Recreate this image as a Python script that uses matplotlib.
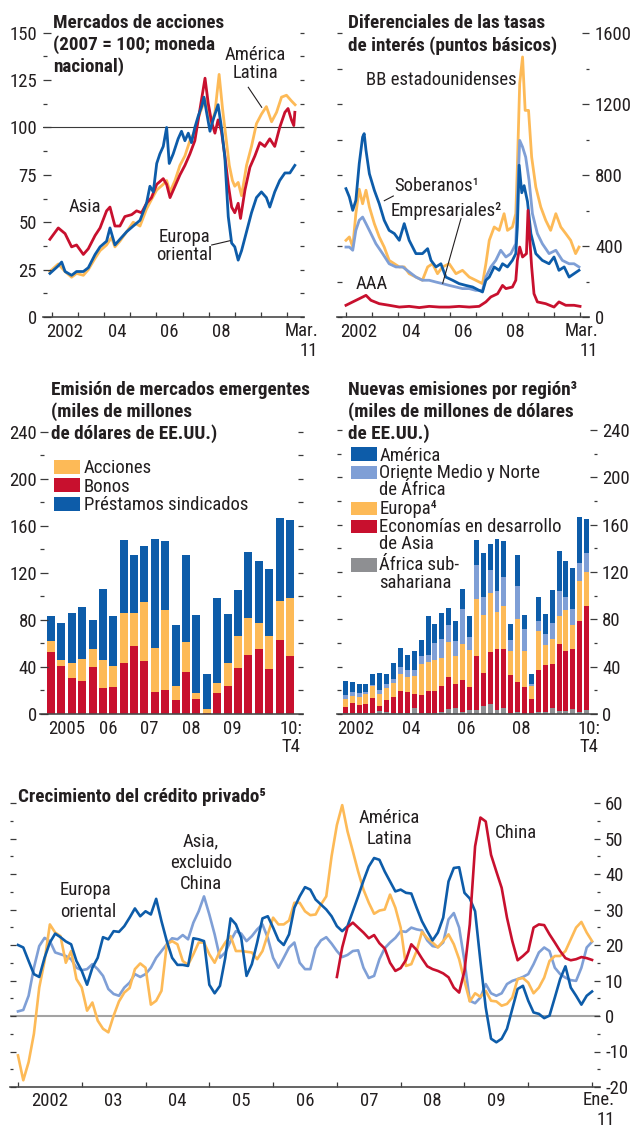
import numpy as np
import matplotlib
matplotlib.use('Agg')
import matplotlib.pyplot as plt
from matplotlib.lines import Line2D
from matplotlib.patches import Rectangle
from matplotlib.transforms import offset_copy

# ---------------- data ----------------
# Mercados de acciones (2007 = 100)
asia_yr = [2001.92, 2002.24, 2002.50, 2002.75, 2002.94, 2003.20, 2003.39, 2003.65, 2003.84, 2004.09,
           2004.22, 2004.41, 2004.60, 2004.79, 2005.05, 2005.24, 2005.43, 2005.62, 2005.81, 2006.01,
           2006.26, 2006.39, 2006.52, 2006.71, 2006.90, 2007.09, 2007.28, 2007.47, 2007.60, 2007.73,
           2007.86, 2007.98, 2008.11, 2008.24, 2008.36, 2008.49, 2008.62, 2008.75, 2008.88, 2009.00,
           2009.13, 2009.22, 2009.39, 2009.58, 2009.77, 2009.96, 2010.15, 2010.34, 2010.53, 2010.72,
           2010.92, 2011.04, 2011.17, 2011.26, 2011.30]
asia_eq = [41, 47, 44, 37, 38, 33, 36, 43, 47, 56, 58, 48, 48, 53, 54, 56, 55, 60, 63, 70,
           73, 70, 63, 69, 75, 80, 86, 93, 104, 115, 126, 113, 103, 97, 104, 98, 85, 70, 58, 55,
           60, 52, 67, 79, 85, 92, 90, 94, 90, 100, 108, 110, 104, 101, 108]

latam_yr = [2001.92, 2002.24, 2002.50, 2002.75, 2002.94, 2003.20, 2003.39, 2003.65, 2003.84, 2004.09,
            2004.28, 2004.41, 2004.60, 2004.86, 2005.11, 2005.37, 2005.62, 2005.81, 2006.01, 2006.26,
            2006.39, 2006.52, 2006.71, 2006.90, 2007.09, 2007.28, 2007.47, 2007.60, 2007.73, 2007.86,
            2007.98, 2008.11, 2008.24, 2008.40, 2008.53, 2008.66, 2008.79, 2008.91, 2009.00, 2009.13,
            2009.26, 2009.45, 2009.64, 2009.83, 2010.02, 2010.21, 2010.41, 2010.60, 2010.79, 2010.98,
            2011.17, 2011.31]
latam_eq = [24, 28, 24, 21, 23, 22, 25, 31, 35, 38, 42, 37, 40, 45, 50, 48, 57, 62, 67, 70,
            72, 66, 72, 80, 85, 93, 98, 105, 110, 115, 108, 102, 108, 128, 110, 95, 80, 72, 69, 71,
            64, 80, 90, 102, 107, 111, 103, 108, 116, 117, 114, 112]

eeur_yr = [2001.92, 2002.24, 2002.37, 2002.50, 2002.75, 2002.94, 2003.20, 2003.39, 2003.65, 2003.84,
           2004.09, 2004.22, 2004.41, 2004.60, 2004.86, 2005.11, 2005.37, 2005.62, 2005.75, 2005.88,
           2006.01, 2006.13, 2006.26, 2006.39, 2006.49, 2006.64, 2006.83, 2006.96, 2007.09, 2007.22,
           2007.34, 2007.47, 2007.60, 2007.73, 2007.82, 2007.92, 2008.05, 2008.17, 2008.36, 2008.49,
           2008.62, 2008.75, 2008.88, 2009.00, 2009.13, 2009.26, 2009.45, 2009.64, 2009.83, 2010.02,
           2010.21, 2010.34, 2010.53, 2010.72, 2010.92, 2011.11, 2011.30]
eeur_eq = [23, 27, 29, 24, 22, 24, 24, 26, 33, 37, 40, 47, 38, 41, 45, 48, 51, 60, 69, 66,
           81, 86, 90, 100, 81, 86, 94, 98, 93, 97, 92, 100, 106, 111, 116, 108, 98, 104, 112, 100,
           84, 53, 39, 37, 30, 35, 45, 55, 63, 66, 63, 58, 66, 72, 76, 76, 80]

# Diferenciales (puntos basicos)
sov_yr = [2002.00, 2002.13, 2002.26, 2002.38, 2002.51, 2002.64, 2002.70, 2002.77, 2002.90, 2003.09,
          2003.28, 2003.47, 2003.66, 2003.86, 2004.05, 2004.24, 2004.43, 2004.69, 2004.94, 2005.14,
          2005.27, 2005.46, 2005.65, 2005.84, 2006.10, 2006.35, 2006.61, 2006.87, 2007.12, 2007.25,
          2007.38, 2007.51, 2007.70, 2007.89, 2008.02, 2008.21, 2008.40, 2008.53, 2008.59, 2008.66,
          2008.76, 2008.85, 2008.98, 2009.11, 2009.30, 2009.55, 2009.81, 2010.00, 2010.19, 2010.39,
          2010.58, 2010.77, 2010.96]
sov_bp = [723, 676, 601, 657, 864, 1014, 1033, 939, 807, 714, 638, 545, 488, 470, 432, 526, 432, 357, 357, 385,
          319, 282, 300, 225, 207, 188, 178, 169, 150, 141, 207, 225, 282, 263, 300, 282, 319, 357, 507, 855,
          700, 740, 650, 470, 357, 319, 300, 338, 263, 282, 225, 244, 263]

bb_yr = [2002.00, 2002.13, 2002.26, 2002.38, 2002.51, 2002.64, 2002.77, 2002.90, 2003.09, 2003.28,
         2003.47, 2003.66, 2003.86, 2004.05, 2004.24, 2004.43, 2004.69, 2004.94, 2005.14, 2005.33,
         2005.52, 2005.71, 2005.97, 2006.23, 2006.48, 2006.74, 2006.99, 2007.25, 2007.38, 2007.51,
         2007.70, 2007.89, 2008.08, 2008.21, 2008.40, 2008.53, 2008.59, 2008.68, 2008.79, 2008.89,
         2009.02, 2009.14, 2009.30, 2009.49, 2009.68, 2009.87, 2010.07, 2010.26, 2010.45, 2010.64,
         2010.83, 2010.96]
bb_bp = [432, 451, 394, 582, 720, 638, 714, 620, 526, 451, 394, 319, 300, 282, 282, 244, 225, 207, 282, 300,
         244, 282, 300, 244, 263, 225, 207, 188, 300, 432, 507, 488, 582, 488, 507, 582, 845, 1315, 1465, 1164,
         1164, 901, 732, 620, 545, 488, 582, 507, 470, 432, 357, 394]

corp_yr = [2002.00, 2002.13, 2002.26, 2002.38, 2002.51, 2002.64, 2002.77, 2002.96, 2003.15, 2003.41,
           2003.66, 2003.92, 2004.18, 2004.43, 2004.69, 2004.94, 2005.20, 2005.46, 2005.71, 2005.97,
           2006.23, 2006.48, 2006.74, 2006.99, 2007.25, 2007.38, 2007.57, 2007.76, 2007.95, 2008.15,
           2008.34, 2008.53, 2008.61, 2008.68, 2008.79, 2008.91, 2009.04, 2009.17, 2009.36, 2009.55,
           2009.81, 2010.07, 2010.32, 2010.58, 2010.77, 2010.96]
corp_bp = [394, 394, 376, 488, 545, 563, 526, 470, 413, 357, 300, 282, 282, 254, 225, 207, 207, 197, 188, 178,
           169, 160, 160, 150, 150, 225, 282, 319, 376, 338, 357, 413, 732, 995, 958, 901, 770, 582, 470, 413,
           357, 376, 319, 300, 300, 282]

aaa_yr = [2002.00, 2002.26, 2002.51, 2002.77, 2002.96, 2003.28, 2003.66, 2004.05, 2004.43, 2004.82,
          2005.20, 2005.59, 2005.97, 2006.35, 2006.74, 2007.12, 2007.38, 2007.57, 2007.83, 2008.02,
          2008.15, 2008.40, 2008.53, 2008.59, 2008.68, 2008.79, 2008.94, 2009.00, 2009.07, 2009.14,
          2009.23, 2009.36, 2009.68, 2010.00, 2010.19, 2010.45, 2010.77, 2011.00]
aaa_bp = [66, 85, 103, 122, 94, 75, 66, 56, 60, 53, 60, 56, 56, 60, 56, 60, 85, 113, 131, 178,
          160, 169, 207, 319, 394, 338, 357, 601, 432, 282, 131, 85, 75, 56, 85, 66, 66, 60]

# Emision de mercados emergentes, 2005:T1 - 2010:T4
bonos = [53, 41, 31, 28, 40, 22, 23, 43, 58, 45, 19, 20, 12, 36, 13, 1, 18, 24, 39, 50, 55, 38, 63, 49]
acciones = [9, 5, 12, 19, 15, 24, 18, 43, 28, 50, 37, 68, 12, 25, 5, 3, 8, 19, 27, 32, 22, 28, 33, 50]
prestamos = [21, 31, 43, 44, 25, 60, 42, 62, 49, 48, 93, 59, 52, 74, 66, 30, 73, 42, 39, 56, 53, 57, 71, 66]

# Nuevas emisiones por region, 2002:T1 - 2010:T4 (stacked levels, bottom to top)
ssa_top = [1, 1, 1, 1, 1, 2.5, 1.5, 1, 1, 1, 5, 0.5, 1, 1, 2, 4.5, 5, 2, 3, 3,
           7, 8.5, 3.4, 4.8, 1, 1.7, 0, 0.5, 1.7, 1.7, 5.4, 2.8, 2.5, 4.2, 1.7, 3.4]
asia_top = [5.6, 9.6, 7.6, 8.5, 13.5, 6.8, 11.8, 14.6, 19.4, 18.6, 17, 16.3, 19.4, 19.7, 23.7, 31.5, 25, 29, 23, 49,
            35, 52, 55, 55, 33, 27, 23, 12.7, 37, 41, 42, 59, 53, 55, 79, 91]
eur_top = [12.4, 15, 14, 17, 24, 17, 22, 26.5, 34, 31, 32, 42, 44, 45.6, 47, 61, 49, 59, 54, 97,
           84, 102, 86.5, 91, 53, 80, 53, 24, 70, 58, 63, 83, 88, 75, 112, 120]
mena_top = [16, 19, 17.7, 18.6, 24.5, 20, 25, 30, 40, 37, 37, 49, 50, 60, 63, 75, 62, 89, 65, 126,
            99, 122, 104, 116, 62.5, 108, 72, 25, 78.6, 67.6, 77, 104, 98.6, 89, 128, 136]
amer_top = [28, 27, 25, 25, 34, 35, 34, 43, 56, 50, 53, 62.5, 83, 76, 85, 90, 79, 106, 83, 147,
            136, 144, 148, 146, 76, 134, 84, 34, 99, 84.5, 105, 138, 129, 123, 166.5, 165]

# Crecimiento del credito privado, mensual ene-2002 .. ene-2011
credit_eeur = [20, 19.3, 15.5, 11.8, 11, 16.4, 20.7, 23.2, 22.2, 21, 20.2, 15.5,
               12.7, 8.8, 13.6, 16.4, 22.2, 21.6, 23.9, 23.7, 25.3, 27.7, 30.3, 28.1,
               29.5, 28.6, 33, 26.7, 21.1, 16.4, 14.4, 14.4, 14.1, 21.9, 21.6, 21.1,
               8.8, 6.4, 8.5, 16.4, 27.5, 25.8, 22, 11.3, 14.6, 20.7, 27.5, 28.1,
               24.9, 21.4, 20, 23, 30.5, 33.7, 36.3, 35.6, 32.8, 31.4, 30, 28.1,
               25.3, 23.9, 25.3, 29.5, 33.7, 38.1, 42.1, 44.5, 44, 40.7, 37.9, 35.1,
               35.6, 34.7, 34.5, 30.5, 26.7, 23.9, 21.3, 23.5, 27.7, 37.9, 41.7, 41.9,
               34.7, 33.1, 29.5, 15.5, 2.4, -6.4, -7.4, -6.4, -3.6, 2, 7.6, 8.5,
               4.3, 1, 0.6, -0.6, 0.1, 5.2, 10.4, 14, 8, 5.7, 3.2, 5.7,
               6.9]
credit_asia = [1.3, 1.7, 5.7, 13.6, 19.7, 22, 21.1, 17.9, 17.4, 16.9, 16, 13.6,
               12.9, 13.2, 14.6, 13.2, 11.3, 7.6, 6.2, 5.7, 8, 9.4, 11.8, 11,
               11.8, 13.6, 16.4, 18.3, 20.2, 21.9, 21.6, 22.8, 21.6, 26.3, 29.5, 33.7,
               28.6, 23, 16.4, 17.9, 21.1, 23.9, 23.2, 21.1, 22.5, 24.4, 25.8, 22,
               16.4, 13.6, 16.4, 19.3, 20.7, 15, 13.2, 13.2, 19.1, 21.3, 22.2, 20.4,
               18.3, 16.6, 17.2, 18.3, 18.5, 13.6, 10.7, 11.3, 16, 19.1, 20.7, 22,
               23.9, 23.7, 24.9, 24.4, 24.1, 21.3, 19.7, 19.4, 20.7, 27.2, 29, 24.9,
               15.5, 4.3, 3.6, 5.2, 9, 6.4, 5.7, 6.4, 9, 9.9, 10.4, 11,
               11.8, 14.6, 17.9, 19.3, 18.3, 13.6, 11.8, 10.8, 10.1, 9.9, 13.6, 19.3,
               20.9]
credit_latam = [-11.1, -18.1, -13, -5, 8, 15.5, 25.8, 23.5, 22.5, 15, 18.3, 10.4,
                8, 1.5, 3.8, -1.3, -3.6, -4.6, 0.1, 4.1, 6.6, 7.9, 13.2, 14.8,
                13.6, 3.2, 4.3, 7.1, 20.2, 21.1, 20.2, 15.5, 14.4, 17.4, 20.7, 20.7,
                17.4, 15, 18.3, 20.7, 22.5, 18.3, 18.3, 18.1, 17.9, 16, 18.3, 23,
                27.7, 25.8, 25.8, 26.9, 31.9, 31.9, 29.5, 28.4, 28.6, 31.4, 33.7, 45,
                53.8, 59.4, 52, 46.4, 40.7, 35.6, 31.9, 28.8, 29.7, 30, 34.2, 30.5,
                24.9, 14.1, 14.6, 18.3, 23.7, 21.9, 20.7, 19.3, 21.1, 23, 20.2, 16,
                9.9, 4.1, 6.4, 5.4, 7.1, 4.3, 4.1, 2.9, 3.4, 5.2, 10.4, 10.7,
                9.4, 6.4, 8, 10.8, 15.5, 16.9, 16.9, 18.3, 21.6, 24.9, 26.5, 23.5,
                21.1]
credit_china = [11, 19.3, 25, 26.3, 24.9, 23.5, 21.9, 22.8, 20.5, 19, 15, 12.7,
                13.5, 15.8, 20.2, 18.6, 16.2, 14, 13.2, 12.7, 12, 10.9, 8, 6.6,
                12.7, 25.8, 47.8, 55.9, 54.8, 45.4, 40.7, 36.1, 27.7, 21.1, 15.7, 16.9,
                18.3, 24.9, 25.8, 25.6, 23, 20.7, 18.3, 16.3, 15.7, 16, 16.6, 16.3,
                15.8]

# ---------------- style ----------------
W, H = 634, 1127
DARK = '#0d5ca9'
LIGHT = '#7f9fd6'
YELLOW = '#fdba57'
RED = '#c8102e'
GREY = '#8e8f92'
TXT = '#231f20'
TICK = '#3a3a3a'
FS = 13.5
TFS = 13.8

plt.rcParams['font.family'] = ['Roboto Condensed', 'DejaVu Sans']
plt.rcParams['text.color'] = TXT

fig = plt.figure(figsize=(W / 100, H / 100), dpi=100)


def box(l, t, r, b):
    ax = fig.add_axes([l / W, 1 - b / H, (r - l) / W, (b - t) / H])
    for s in ('left', 'right', 'top'):
        ax.spines[s].set_visible(False)
    ax.spines['bottom'].set_color('#4a4a4a')
    ax.spines['bottom'].set_linewidth(1.2)
    ax.patch.set_alpha(0)
    ax.set_yticks([])
    ax.tick_params(axis='x', which='both', bottom=False, labelbottom=False)
    return ax


def ptext(x, y, lines, pitch=21.5, **kw):
    # multi-line text placed by pixel baseline
    if isinstance(lines, str):
        lines = [lines]
    kw.setdefault('fontsize', FS)
    for i, s in enumerate(lines):
        fig.text(x / W, 1 - (y + i * pitch) / H, s, va='baseline', **kw)


def pline(xs, ys):
    fig.add_artist(Line2D([x / W for x in xs], [1 - y / H for y in ys], color=TXT, lw=0.8))


def side_ticks(ax, side, major, minor, long_px, short_px, labels=None, pad_px=5):
    tw = ax.twinx()
    tw.set_ylim(ax.get_ylim())
    for s in tw.spines.values():
        s.set_visible(False)
    tw.patch.set_visible(False)
    tw.yaxis.set_ticks_position(side)
    tw.set_yticks(major)
    tw.set_yticks(minor, minor=True)
    if labels is None:
        tw.set_yticklabels([])
    else:
        tw.set_yticklabels(labels)
    on_left = side == 'left'
    tw.tick_params(axis='y', which='major', direction='in', length=long_px * 0.72, width=0.9,
                   color=TICK, pad=pad_px * 0.72, labelsize=FS, labelcolor=TXT,
                   left=on_left, right=not on_left,
                   labelleft=on_left and labels is not None, labelright=(not on_left) and labels is not None)
    tw.tick_params(axis='y', which='minor', direction='in', length=short_px * 0.72, width=0.9,
                   color=TICK, left=on_left, right=not on_left)
    return tw


def year_ticks(ax, years, length_px=5):
    ax.set_xticks(years)
    ax.tick_params(axis='x', which='major', bottom=True, direction='in', length=length_px * 0.72,
                   width=0.9, color=TICK, labelbottom=False)


def xlab(ax, x, lines, drop, ha='center', pitch=19):
    if isinstance(lines, str):
        lines = [lines]
    for i, s in enumerate(lines):
        tr = offset_copy(ax.get_xaxis_transform(), fig=fig, x=0, y=-(drop + i * pitch), units='dots')
        ax.text(x, 0, s, transform=tr, ha=ha, va='baseline', fontsize=FS, clip_on=False)


def swatch(l, t, r, b, color):
    fig.add_artist(Rectangle((l / W, 1 - b / H), (r - l) / W, (b - t) / H,
                             transform=fig.transFigure, color=color, lw=0))


years = list(range(2002, 2012))

# ---------------- panel 1: Mercados de acciones ----------------
ax1 = box(43, 32.7, 304, 317)
ax1.set_xlim(2001.655, 2011.651)
ax1.set_ylim(0, 150)
ax1.axhline(100, color='#3a3a3a', lw=0.8, zorder=1)
ax1.plot(latam_yr, latam_eq, color=YELLOW, lw=2.0, zorder=2)
ax1.plot(asia_yr, asia_eq, color=RED, lw=2.0, zorder=3)
ax1.plot(eeur_yr, eeur_eq, color=DARK, lw=2.0, zorder=4)
year_ticks(ax1, years)
side_ticks(ax1, 'left', np.arange(0, 151, 25), np.arange(12.5, 150, 25), 7.5, 3.5,
           labels=[str(v) for v in range(0, 151, 25)], pad_px=6)
side_ticks(ax1, 'right', np.arange(0, 151, 12.5), [], 4.5, 0)
for yr, s in [(2002.5, '2002'), (2004.5, '04'), (2006.5, '06'), (2008.5, '08')]:
    xlab(ax1, yr, s, 19.5)
xlab(ax1, 2012.19, ['Mar.', '11'], 18.5, ha='right', pitch=20)

ptext(53, 28, ['Mercados de acciones', '(2007 = 100; moneda', 'nacional)'], pitch=22,
      fontweight='bold', fontsize=TFS)
ptext(84.5, 212.5, 'Asia', ha='center')
ptext(255, 60, ['América', 'Latina'], pitch=18.5, ha='center')
pline([248.3, 261.7], [87.3, 107.3])
ptext(184, 241.5, ['Europa', 'oriental'], pitch=18.5, ha='center')
pline([211.7, 230], [245, 240.7])

# ---------------- panel 2: Diferenciales ----------------
ax2 = box(337, 33, 589, 317)
ax2.set_xlim(2001.655, 2011.345)
ax2.set_ylim(0, 1600)
ax2.plot(bb_yr, bb_bp, color=YELLOW, lw=2.0, zorder=2)
ax2.plot(corp_yr, corp_bp, color=LIGHT, lw=2.0, zorder=3)
ax2.plot(sov_yr, sov_bp, color=DARK, lw=2.0, zorder=4)
ax2.plot(aaa_yr, aaa_bp, color=RED, lw=2.0, zorder=5)
year_ticks(ax2, years)
side_ticks(ax2, 'left', np.arange(0, 1601, 200), [], 5, 0)
side_ticks(ax2, 'right', np.arange(0, 1601, 400), np.arange(200, 1600, 400), 7, 3.5,
           labels=[str(v) for v in range(0, 1601, 400)], pad_px=6)
for yr, s in [(2002.5, '2002'), (2004.5, '04'), (2006.5, '06'), (2008.5, '08')]:
    xlab(ax2, yr, s, 19.5)
xlab(ax2, 2011.69, ['Mar.', '11'], 18.5, ha='right', pitch=20)

ptext(348.5, 28.5, ['Diferenciales de las tasas', 'de interés (puntos básicos)'], pitch=22,
      fontweight='bold', fontsize=TFS)
ptext(366, 85, 'BB estadounidenses')
ptext(394, 190.5, 'Soberanos¹')
pline([384.3, 393.3], [200.7, 196])
ptext(391, 216, 'Empresariales²')
pline([461, 442.7], [218.5, 283.3])
ptext(372, 289, 'AAA', ha='center')

# ---------------- panel 3: Emision de mercados emergentes ----------------
ax3 = box(40, 431.7, 303, 714)
ax3.set_xlim(-1.06, 24.26)
ax3.set_ylim(0, 240)
q3 = np.arange(len(bonos))
b1 = np.array(bonos, float)
b2 = b1 + np.array(acciones, float)
ax3.bar(q3, bonos, width=0.77, color=RED, lw=0)
ax3.bar(q3, acciones, bottom=b1, width=0.77, color=YELLOW, lw=0)
ax3.bar(q3, prestamos, bottom=b2, width=0.77, color=DARK, lw=0)
side_ticks(ax3, 'left', np.arange(0, 241, 40), np.arange(20, 240, 40), 7.5, 3.5,
           labels=[str(v) for v in range(0, 241, 40)], pad_px=3)
side_ticks(ax3, 'right', np.arange(0, 241, 20), [], 5, 0)
for i, s in [(1.5, '2005'), (5.5, '06'), (9.5, '07'), (13.5, '08'), (17.5, '09')]:
    xlab(ax3, i, s, 19.5)
xlab(ax3, 23.1, ['10:', 'T4'], 19.5, pitch=18.5)

ptext(51, 395, ['Emisión de mercados emergentes', '(miles de millones', 'de dólares de EE.UU.)'],
      pitch=21.7, fontweight='bold', fontsize=TFS)
for (t, b, c, s, yb) in [(460, 474, YELLOW, 'Acciones', 473.3),
                         (478.3, 491.7, RED, 'Bonos', 491.7),
                         (496.7, 510.7, DARK, 'Préstamos sindicados', 510)]:
    swatch(54, t, 80, b, c)
    ptext(84, yb, s)

# ---------------- panel 4: Nuevas emisiones por region ----------------
ax4 = box(337, 430, 597, 714)
ax4.set_xlim(-1.2, 36.5)
ax4.set_ylim(0, 240)
q4 = np.arange(len(amer_top))
levels = np.vstack([np.zeros(len(q4)), ssa_top, asia_top, eur_top, mena_top, amer_top])
for k, c in enumerate([GREY, RED, YELLOW, LIGHT, DARK]):
    ax4.bar(q4, levels[k + 1] - levels[k], bottom=levels[k], width=0.72, color=c, lw=0)
side_ticks(ax4, 'left', np.arange(0, 241, 40), np.arange(20, 240, 40), 5, 3.5)
side_ticks(ax4, 'right', np.arange(0, 241, 40), np.arange(20, 240, 40), 7.5, 3.5,
           labels=[str(v) for v in range(0, 241, 40)], pad_px=5)
for i, s in [(1.5, '2002'), (9.5, '04'), (17.5, '06'), (25.5, '08')]:
    xlab(ax4, i, s, 19.5)
xlab(ax4, 35.3, ['10:', 'T4'], 19.5, pitch=18.5)

ptext(347.7, 395, ['Nuevas emisiones por región³', '(miles de millones de dólares', 'de EE.UU.)'],
      pitch=21.7, fontweight='bold', fontsize=TFS)
for (t, b, c) in [(447.3, 460.7, DARK), (465.7, 479, LIGHT), (501.7, 515, YELLOW),
                  (520, 533.3, RED), (558.3, 572.3, GREY)]:
    swatch(351, t, 377, b, c)
ptext(379.3, 460.7, 'América')
ptext(379.3, 478.3, ['Oriente Medio y Norte', 'de África'], pitch=16.7)
ptext(379.3, 514, 'Europa⁴')
ptext(379.3, 532.3, ['Economías en desarrollo', 'de Asia'], pitch=16.7)
ptext(379.3, 570, ['África sub-', 'sahariana'], pitch=18.3)

# ---------------- panel 5: Crecimiento del credito privado ----------------
ax5 = box(10, 803, 600, 1087)
ax5.set_xlim(2001.875, 2011.125)
ax5.set_ylim(-20, 60)
months = 2002 + np.arange(len(credit_eeur)) / 12
ax5.axhline(0, color='#a3a3a3', lw=1.5, zorder=1)
ax5.plot(months, credit_asia, color=LIGHT, lw=1.9, zorder=2)
ax5.plot(months, credit_latam, color=YELLOW, lw=1.9, zorder=3)
ax5.plot(months, credit_eeur, color=DARK, lw=1.9, zorder=4)
ax5.plot(months[60:], credit_china, color=RED, lw=1.9, zorder=5)
year_ticks(ax5, years, length_px=5.5)
side_ticks(ax5, 'left', np.arange(-20, 61, 10), np.arange(-15, 60, 10), 6, 3.3)
side_ticks(ax5, 'right', np.arange(-20, 61, 10), np.arange(-15, 60, 10), 6, 3.3,
           labels=[str(v) for v in range(-20, 61, 10)], pad_px=5)
for yr, s in [(2002.5, '2002'), (2003.5, '03'), (2004.5, '04'), (2005.5, '05'), (2006.5, '06'),
              (2007.5, '07'), (2008.5, '08'), (2009.5, '09')]:
    xlab(ax5, yr, s, 19)
xlab(ax5, 2011.36, ['Ene.', '11'], 18, ha='right', pitch=20)

ptext(18.3, 801.7, 'Crecimiento del crédito privado⁵', fontweight='bold', fontsize=TFS)
ptext(60, 895, ['Europa', 'oriental'], pitch=21.7)
ptext(201, 846, ['Asia,', 'excluido', 'China'], pitch=21.7, ha='center')
ptext(389, 822.7, ['América', 'Latina'], pitch=21.3, ha='center')
ptext(516, 837.7, 'China', ha='center')

fig.savefig('out.png', dpi=100)
